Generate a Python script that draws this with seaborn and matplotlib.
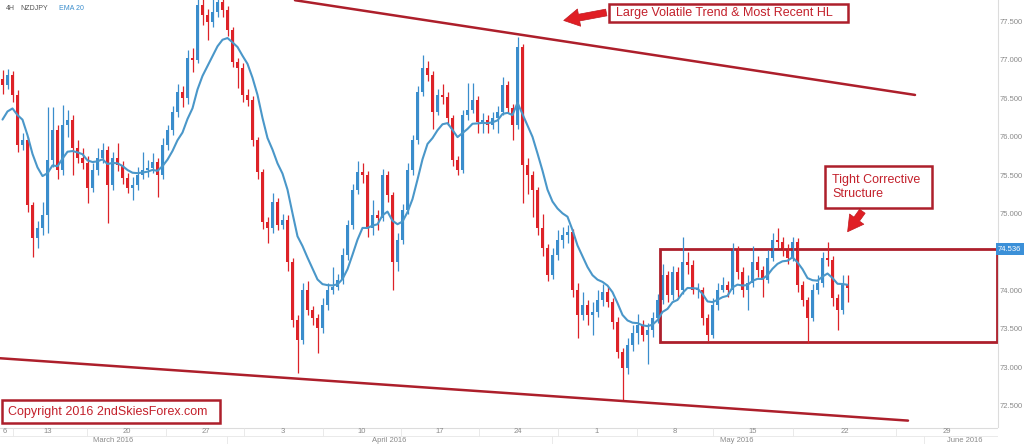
import numpy as np
import pandas as pd
import matplotlib.pyplot as plt
from matplotlib.patches import Rectangle
import seaborn as sns

# NZDJPY 4H (one bar here ~ two 4H bars)
closes = [
    76.67, 76.80, 76.54, 75.89, 75.95, 75.11, 74.68, 74.81, 74.98, 75.69,
    76.08, 75.57, 76.15, 76.21, 75.85, 75.72, 75.66, 75.33, 75.57, 75.72,
    75.82, 75.37, 75.72, 75.63, 75.46, 75.33, 75.37, 75.50, 75.57, 75.59,
    75.67, 75.50, 75.89, 76.08, 76.32, 76.58, 76.50, 77.02, 76.99, 77.71,
    77.58, 77.49, 77.62, 77.75, 77.64, 77.38, 76.97, 76.89, 76.54, 76.47,
    75.95, 75.54, 74.89, 74.81, 75.15, 74.85, 74.92, 74.37, 73.62, 73.36,
    74.01, 73.75, 73.64, 73.51, 73.81, 74.01, 74.05, 74.14, 74.46, 74.85,
    75.31, 75.54, 75.50, 74.81, 74.98, 74.94, 75.50, 75.24, 74.37, 74.66,
    75.05, 75.57, 75.95, 76.58, 76.89, 76.80, 76.32, 76.54, 76.51, 76.24,
    75.69, 75.57, 76.28, 76.34, 76.47, 76.19, 76.21, 76.15, 76.24, 76.32,
    76.67, 76.37, 76.15, 77.16, 75.63, 75.50, 75.31, 74.81, 74.55, 74.20,
    74.46, 74.66, 74.72, 74.76, 74.01, 73.68, 73.81, 73.68, 73.72, 73.88,
    73.98, 73.85, 73.59, 73.20, 72.99, 73.29, 73.45, 73.55, 73.42, 73.49,
    73.64, 73.88, 74.20, 73.94, 74.24, 74.01, 74.37, 74.33, 74.01, 74.01,
    73.64, 73.42, 73.81, 74.01, 74.07, 74.01, 74.53, 74.24, 74.01, 74.10,
    74.37, 74.27, 74.14, 74.42, 74.66, 74.63, 74.53, 74.42, 74.63, 74.07,
    73.88, 73.64, 74.01, 74.10, 74.42, 74.40, 73.90, 73.75, 74.07, 74.03,
]
highs = [
    76.86, 76.88, 76.85, 76.60, 76.05, 76.00, 75.15, 74.90, 75.15, 76.38,
    76.38, 76.15, 76.41, 76.35, 76.28, 75.95, 75.85, 75.75, 75.65, 75.85,
    75.92, 75.88, 75.80, 75.92, 75.68, 75.52, 75.48, 75.60, 75.80, 75.70,
    75.78, 75.72, 75.98, 76.15, 76.40, 76.68, 76.65, 77.12, 77.15, 77.85,
    77.85, 77.65, 77.80, 77.85, 77.85, 77.70, 77.42, 77.02, 76.95, 76.62,
    76.52, 76.00, 75.58, 74.95, 75.27, 75.20, 75.00, 74.98, 74.42, 73.68,
    74.10, 74.12, 73.80, 73.70, 73.90, 74.10, 74.30, 74.22, 74.55, 74.92,
    75.38, 75.68, 75.65, 75.55, 75.18, 75.05, 75.58, 75.55, 75.28, 74.75,
    75.12, 75.65, 76.02, 76.65, 77.06, 76.98, 76.85, 76.62, 76.68, 76.58,
    76.28, 75.75, 76.35, 76.69, 76.69, 76.52, 76.30, 76.28, 76.32, 76.40,
    76.77, 76.72, 76.42, 77.29, 77.20, 75.72, 75.55, 75.35, 75.00, 74.60,
    74.55, 74.78, 74.82, 74.85, 74.80, 74.10, 73.98, 73.88, 73.85, 74.00,
    74.08, 74.05, 73.90, 73.65, 73.25, 73.38, 73.55, 73.70, 73.62, 73.58,
    73.72, 73.95, 74.35, 74.25, 74.32, 74.30, 74.69, 74.50, 74.40, 74.10,
    74.05, 73.70, 73.90, 74.10, 74.18, 74.12, 74.62, 74.58, 74.30, 74.20,
    74.58, 74.45, 74.32, 74.52, 74.75, 74.81, 74.70, 74.60, 74.70, 74.68,
    74.12, 73.92, 74.08, 74.20, 74.50, 74.63, 74.45, 73.95, 74.20, 74.20,
]
lows = [
    76.55, 76.62, 76.45, 75.80, 75.82, 75.02, 74.44, 74.55, 74.72, 74.75,
    75.60, 75.45, 75.50, 76.00, 75.50, 75.65, 75.58, 75.14, 75.28, 75.50,
    75.65, 74.88, 75.30, 75.55, 75.38, 75.26, 75.18, 75.30, 75.45, 75.48,
    75.52, 75.21, 75.45, 75.82, 76.02, 76.25, 76.38, 76.42, 76.84, 76.95,
    77.45, 77.25, 77.42, 77.55, 77.55, 77.30, 76.90, 76.63, 76.45, 76.40,
    75.88, 75.45, 74.80, 74.62, 74.75, 74.78, 74.80, 74.25, 73.52, 72.93,
    73.30, 73.68, 73.55, 73.19, 73.45, 73.75, 73.95, 74.00, 74.08, 74.40,
    74.80, 75.25, 75.40, 74.70, 74.72, 74.78, 74.90, 75.15, 74.01, 74.25,
    74.60, 75.00, 75.50, 75.90, 76.52, 76.72, 76.10, 76.28, 76.42, 76.15,
    75.62, 75.50, 75.52, 76.22, 76.30, 76.05, 76.05, 76.05, 76.10, 76.05,
    76.28, 76.30, 75.95, 76.10, 75.14, 75.25, 74.95, 74.72, 74.45, 74.12,
    74.15, 74.40, 74.55, 74.62, 73.92, 73.38, 73.62, 73.55, 73.42, 73.65,
    73.80, 73.78, 73.50, 73.12, 72.58, 72.92, 73.22, 73.30, 73.35, 73.05,
    73.40, 73.58, 73.82, 73.85, 73.88, 73.92, 73.95, 74.22, 73.95, 73.90,
    73.55, 73.35, 73.38, 73.75, 73.98, 73.92, 73.96, 74.15, 73.92, 73.75,
    74.05, 74.18, 73.92, 74.10, 74.38, 74.55, 74.45, 74.35, 74.38, 73.98,
    73.80, 73.32, 73.60, 73.95, 74.05, 74.32, 73.80, 73.49, 73.70, 73.85,
]
first_open = 76.75
ema_start = 76.12
EMA_SPAN = 10  # ~EMA 20 on the original 4H bars

week_labels = ["6", "13", "20", "27", "3", "10", "17", "24", "1", "8", "15", "22", "29"]
month_labels = ["March 2016", "April 2016", "May 2016", "June 2016"]
price_ticks = [72.5, 73.0, 73.5, 74.0, 75.0, 75.5, 76.0, 76.5, 77.0, 77.5]

# drawings, in (bar, price)
upper_trend = ([58.5, 182.5], [77.77, 76.54])
lower_trend = ([-0.5, 181.1], [73.12, 72.31])
range_box = (131.5, 198.9, 73.33, 74.536)  # left, right, bottom, top

df = pd.DataFrame({"close": closes, "high": highs, "low": lows})
df["open"] = df["close"].shift(1).fillna(first_open)
df["bar"] = np.arange(len(df))
df["ema"] = pd.Series([ema_start] + closes).ewm(span=EMA_SPAN, adjust=False).mean().iloc[1:].values

BLUE = "#3a8dcc"
RED = "#dd2228"
EMA_C = "#4a97c9"
DARK_RED = "#ad1f2b"
GREY = "#8a8a8a"

sns.set_style("white")
plt.rcParams["font.family"] = ["Liberation Sans", "DejaVu Sans"]

W, H = 1024, 444
fig = plt.figure(figsize=(W / 100, H / 100), dpi=100)
ax = fig.add_axes([0, 17 / H, 998 / W, 427 / H])

up = df["close"] >= df["open"]
colors = np.where(up, BLUE, RED)
ax.vlines(df["bar"], df["low"], df["high"], colors=colors, lw=0.9)
body = (df["close"] - df["open"]).where((df["close"] - df["open"]).abs() > 0.01, 0.01)
ax.bar(df["bar"], body, bottom=df["open"], width=0.62, color=colors, lw=0)
sns.lineplot(x=df["bar"], y=df["ema"], ax=ax, color=EMA_C, lw=1.5)

ax.plot(*upper_trend, color=DARK_RED, lw=1.8)
ax.plot(*lower_trend, color=DARK_RED, lw=1.8)
l, r, b, t = range_box
ax.add_patch(Rectangle((l, b), r - l, t - b, fill=False, ec=DARK_RED, lw=2, clip_on=False))

xmin, xmax = -0.5, 199.1
ax.set_xlim(xmin, xmax)
ax.set_ylim(72.227, 77.773)
ax.set_xlabel("")
ax.set_ylabel("")
ax.set_xticks([])
ax.yaxis.tick_right()
ax.set_yticks(price_ticks)
ax.set_yticklabels([f"{v:.3f}" for v in price_ticks])
ax.tick_params(axis="y", length=0, pad=1.5, labelsize=5.5, labelcolor=GREY)
for s in ["top", "left", "bottom"]:
    ax.spines[s].set_visible(False)
ax.spines["right"].set_color("#dcdcdc")
ax.spines["right"].set_linewidth(0.8)

ax.text(1.0, t, f"{t:.3f}", transform=ax.get_yaxis_transform(), ha="left", va="center",
        fontsize=5.5, color="white", bbox=dict(boxstyle="square,pad=0.3", fc="#3b90d8", ec="none"))

# two-row date axis
axd = fig.add_axes([0, 0, 998 / W, 17 / H])
axd.set_xlim(xmin, xmax)
axd.set_ylim(0, 1)
axd.axis("off")
week_pos = [0.5, 9.1, 24.9, 40.7, 56.1, 71.9, 87.5, 103.1, 118.9, 134.5, 150.1, 168.5, 188.9]
week_sep = [2.1, 16.9, 32.7, 48.3, 64.1, 79.7, 95.3, 111.1, 126.9, 142.1, 158.1, 178.7]
month_pos = [22.1, 77.3, 146.9, 192.5]
month_sep = [44.9, 109.9, 184.3]
for p, s in zip(week_pos, week_labels):
    axd.text(p, 0.74, s, ha="center", va="center", fontsize=5.5, color=GREY)
for p, s in zip(month_pos, month_labels):
    axd.text(p, 0.22, s, ha="center", va="center", fontsize=5.5, color=GREY)
axd.axhline(0.95, color="#dcdcdc", lw=0.8)
axd.axhline(0.49, color="#e6e6e6", lw=0.6)
axd.vlines(week_sep, 0.49, 0.95, color="#e6e6e6", lw=0.6)
axd.vlines(month_sep, 0, 0.49, color="#e6e6e6", lw=0.6)

# annotations, in figure pixels
axo = fig.add_axes([0, 0, 1, 1])
axo.set_xlim(0, W)
axo.set_ylim(H, 0)
axo.axis("off")
axo.patch.set_alpha(0)

axo.text(6, 9, "4H", fontsize=5, color="#555555", va="center")
axo.text(20, 9, "NZDJPY", fontsize=5, color="#555555", va="center")
axo.text(59, 9, "EMA 20", fontsize=5, color=BLUE, va="center")

boxes = [
    ((609, 4, 239, 18), (616, 13), "Large Volatile Trend & Most Recent HL"),
    ((825, 166, 107, 42), (832, 187), "Tight Corrective\nStructure"),
    ((2, 400, 218, 23), (8, 411.5), "Copyright 2016 2ndSkiesForex.com"),
]
for (bx, by, bw, bh), (tx, ty), s in boxes:
    axo.add_patch(Rectangle((bx, by), bw, bh, fc="white", ec=DARK_RED, lw=1.8))
    axo.text(tx, ty, s, ha="left", va="center", fontsize=9, color="#c3202b", linespacing=1.3)

arrow = dict(arrowstyle="simple,head_length=0.8,head_width=0.9,tail_width=0.35",
             fc="#e01e24", ec="#c01a20", lw=0.5, mutation_scale=14)
axo.annotate("", xy=(561, 21), xytext=(609, 12), arrowprops=arrow)
axo.annotate("", xy=(846, 234), xytext=(864, 209), arrowprops=arrow)

fig.savefig("out.png", dpi=100)
